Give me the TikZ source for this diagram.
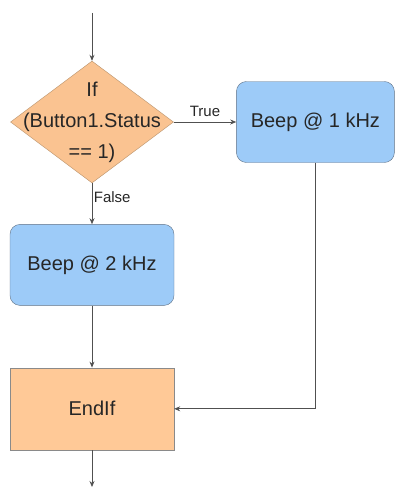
\documentclass[tikz,border=0pt]{standalone}
\usepackage{fontspec}
\setmainfont{Liberation Sans}
\usetikzlibrary{positioning,arrows.meta,shapes.geometric}
\definecolor{decfill}{HTML}{FAC391}
\definecolor{decdraw}{HTML}{B8916A}
\definecolor{actfill}{HTML}{9DCBF8}
\definecolor{actdraw}{HTML}{5F7186}
\definecolor{endfill}{HTML}{FFC997}
\definecolor{endline}{HTML}{8A8A8A}
\definecolor{wire}{HTML}{505050}

\begin{document}
\begin{tikzpicture}[
  >={Stealth[length=6pt,width=5pt]},
  txt/.style={font=\fontsize{20}{31}\selectfont,text=black!85},
  lbl/.style={font=\fontsize{15}{18}\selectfont,text=black!85,inner sep=1.5pt},
  decision/.style={diamond,draw=decdraw,fill=decfill,minimum width=163pt,minimum height=122pt,inner sep=0pt},
  action/.style={txt,draw=actdraw,fill=actfill,rounded corners=10pt,minimum width=158pt,minimum height=81pt},
  endbox/.style={txt,draw=endline,fill=endfill,minimum width=164pt,minimum height=82pt},
  flow/.style={->,line width=0.8pt,wire},
]
\useasboundingbox (0,0) rectangle (395pt,-487pt);

% decision
\node[decision] (dec) at (92pt,-122pt) {};
\node[txt,align=center] (dectext) at (dec.center) {If\\(Button1.Status\\== 1)};
\coordinate (in) at (92pt,-13pt);

% the two branches
\node[action,right=62.5pt of dec] (beep1) {Beep @ 1 kHz};
\node[action,minimum width=164pt,below=41pt of dec] (beep2) {Beep @ 2 kHz};

% join
\node[endbox,below=62pt of beep2] (endif) {EndIf};
\coordinate (out) at (92pt,-487pt);
\coordinate (turn) at (beep1.south |- endif.east);

% connectors
\draw[flow] (in) -- (dec.north);
\draw[flow] (dec.east) -- node[lbl,above=3pt] (tlbl) {True} (beep1.west);
\draw[flow] (dec.south) -- node[lbl,right,pos=0.34] (flbl) {False} (beep2.north);
\draw[flow] (beep2.south) -- (endif.north);
\draw[flow] (beep1.south) -- (turn) -- (endif.east);
\draw[flow] (endif.south) -- (out);
\end{tikzpicture}
\end{document}
